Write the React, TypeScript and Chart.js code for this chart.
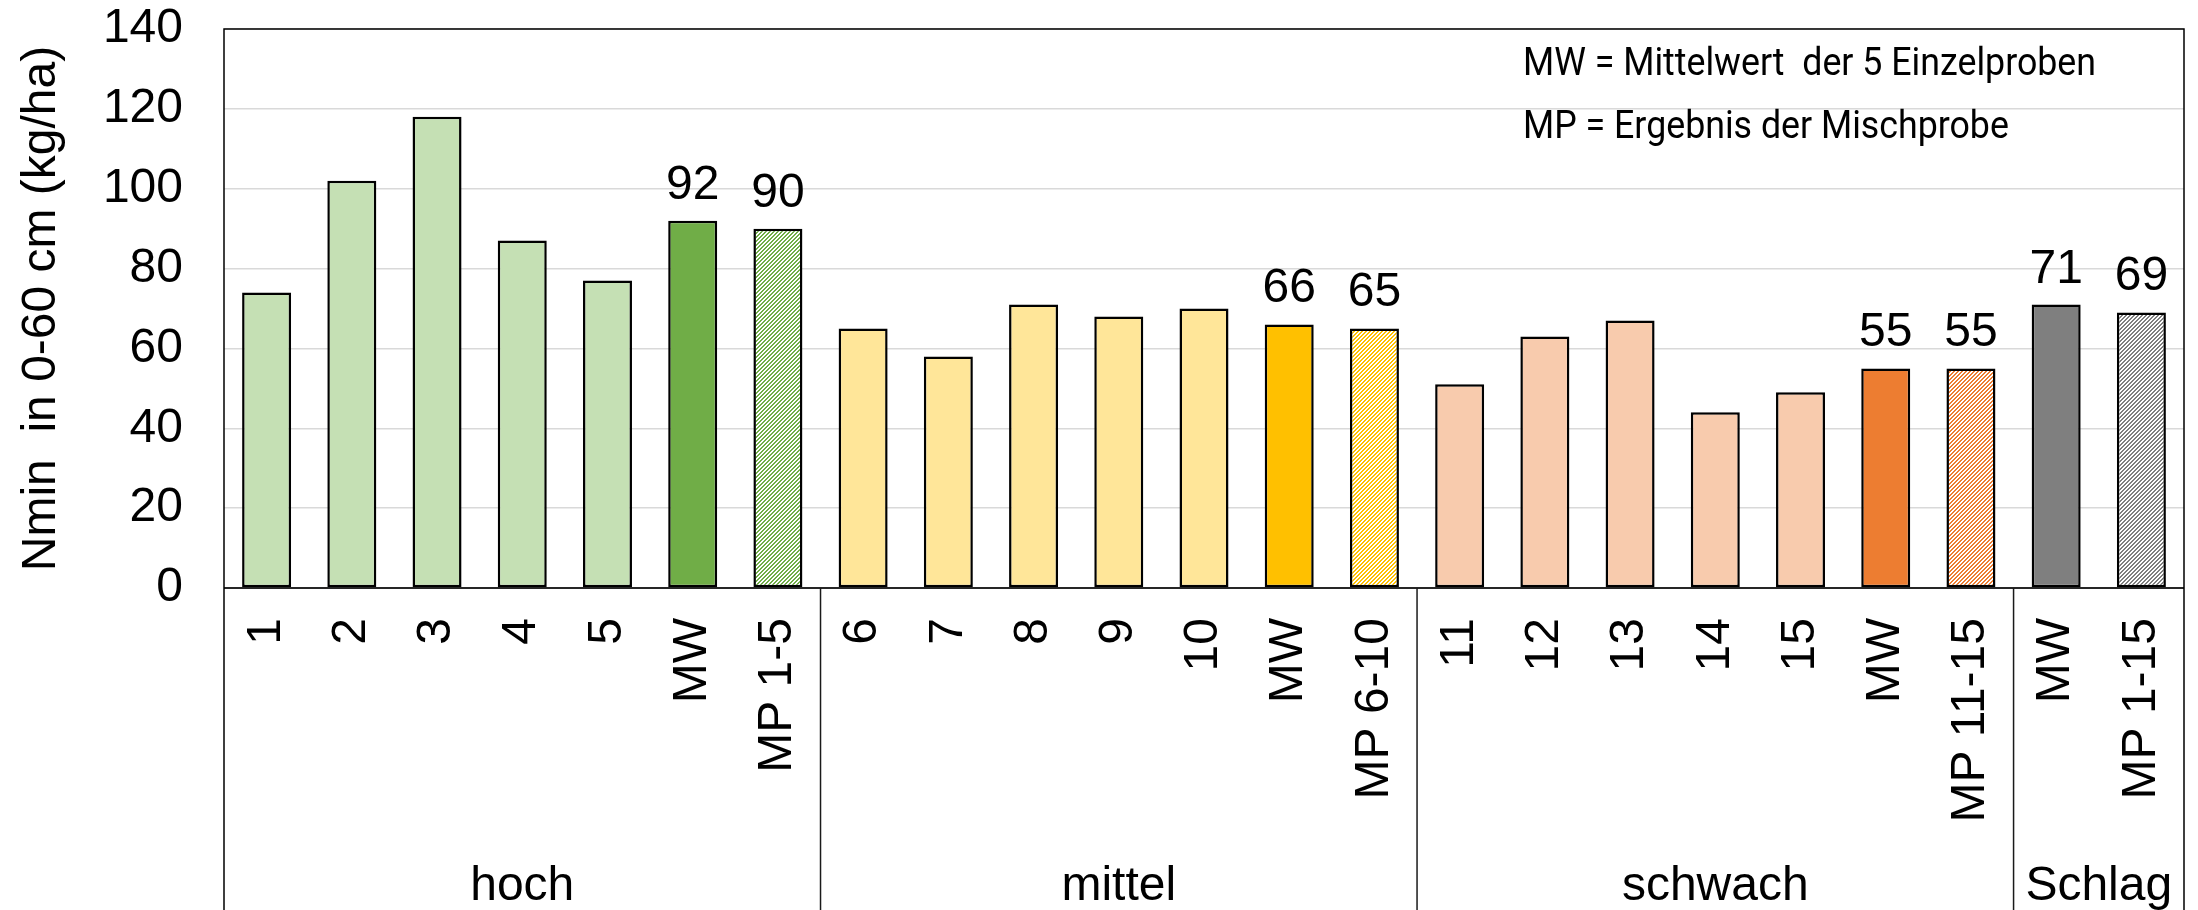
import { useEffect, useRef } from 'react';
import { Chart, registerables } from 'chart.js';

Chart.register(...registerables);

// Sample points and the derived mean (MW) / mixed sample (MP) results
const categories = [
  '1', '2', '3', '4', '5', 'MW', 'MP 1-5',
  '6', '7', '8', '9', '10', 'MW', 'MP 6-10',
  '11', '12', '13', '14', '15', 'MW', 'MP 11-15',
  'MW', 'MP 1-15',
];
const nminValues = [
  74, 102, 118, 87, 77, 92, 90,
  65, 58, 71, 68, 70, 66, 65,
  51, 63, 67, 44, 49, 55, 55,
  71, 69,
];

// Yield zones and how many bars each one holds
const groupNames = ['hoch', 'mittel', 'schwach', 'Schlag'];
const groupSizes = [7, 7, 7, 2];
const lightColors = ['#C5E0B4', '#FFE699', '#F8CBAD', '#BFBFBF'];
const strongColors = ['#70AD47', '#FFC000', '#ED7D31', '#7F7F7F'];

const yMin = 0;
const yMax = 140;
const yStep = 20;
const yTitle = 'Nmin  in 0-60 cm (kg/ha)';
const noteLines = ['MW = Mittelwert  der 5 Einzelproben', 'MP = Ergebnis der Mischprobe'];

const FONT = "'Liberation Sans', Arial, sans-serif";

// Fine upward diagonal hatch on white, used for the mixed-sample bars
function hatch(color: string): CanvasPattern | string {
  const size = 4;
  const tile = document.createElement('canvas');
  tile.width = size;
  tile.height = size;
  const g = tile.getContext('2d');
  if (!g) return color;
  g.fillStyle = '#ffffff';
  g.fillRect(0, 0, size, size);
  g.fillStyle = color;
  for (let x = 0; x < size; x++) {
    for (let y = 0; y < size; y++) {
      if ((x + y) % size < 2) g.fillRect(x, y, 1, 1);
    }
  }
  const p = g.createPattern(tile, 'repeat');
  return p || color;
}

// Tick labels may overhang the plot edges; keep them from shrinking the plot
function clearScalePadding(scale: any) {
  scale.paddingTop = 0;
  scale.paddingBottom = 0;
  scale.paddingLeft = 0;
  scale.paddingRight = 0;
}

const framePlugin = {
  id: 'frame',
  afterDraw(chart: any) {
    const { ctx, chartArea } = chart;
    const { left, right, top, bottom } = chartArea;
    const H = chart.height;
    const xs = chart.scales.x;
    const ys = chart.scales.y;
    const catW = xs.getPixelForValue(1) - xs.getPixelForValue(0);

    ctx.save();

    // value axis baseline
    const y0 = ys.getPixelForValue(0);
    ctx.strokeStyle = '#262626';
    ctx.lineWidth = 2;
    ctx.beginPath();
    ctx.moveTo(left, y0);
    ctx.lineTo(right, y0);
    ctx.stroke();

    // outer frame running down through the category area
    ctx.strokeStyle = '#000000';
    ctx.lineWidth = 1.5;
    ctx.beginPath();
    ctx.moveTo(left, H);
    ctx.lineTo(left, top);
    ctx.lineTo(right, top);
    ctx.lineTo(right, H);
    ctx.stroke();

    // zone separators and zone names
    let start = 0;
    ctx.fillStyle = '#000000';
    ctx.font = `48px ${FONT}`;
    ctx.textAlign = 'center';
    ctx.textBaseline = 'alphabetic';
    groupNames.forEach((name, gi) => {
      const end = start + groupSizes[gi];
      const x0 = xs.getPixelForValue(start) - catW / 2;
      const x1 = xs.getPixelForValue(end - 1) + catW / 2;
      if (gi < groupNames.length - 1) {
        ctx.strokeStyle = '#1a1a1a';
        ctx.lineWidth = 1.5;
        ctx.beginPath();
        ctx.moveTo(x1, bottom);
        ctx.lineTo(x1, H);
        ctx.stroke();
      }
      ctx.fillText(name, (x0 + x1) / 2, H - 10);
      start = end;
    });

    // value labels above the MW / MP bars
    const meta = chart.getDatasetMeta(0);
    categories.forEach((c, i) => {
      if (c === 'MW' || c.startsWith('MP')) {
        const el = meta.data[i];
        ctx.fillText(String(Math.round(nminValues[i])), el.x, el.y - 22);
      }
    });

    // y-axis title
    ctx.save();
    ctx.translate(55, (top + bottom) / 2);
    ctx.rotate(-Math.PI / 2);
    ctx.textAlign = 'center';
    ctx.fillText(yTitle, 0, 0);
    ctx.restore();

    // explanatory note in the upper right
    ctx.font = "38px Roboto, 'DejaVu Sans Condensed', sans-serif";
    ctx.textAlign = 'left';
    const sx = 573 / ctx.measureText(noteLines[0]).width;
    noteLines.forEach((line, li) => {
      ctx.save();
      ctx.translate(right - 661, top + 46 + li * 63);
      ctx.scale(sx, 1);
      ctx.fillText(line, 0, 0);
      ctx.restore();
    });

    ctx.restore();
  },
};

export default function App() {
  const canvasRef = useRef<HTMLCanvasElement>(null);

  useEffect(() => {
    const canvas = canvasRef.current;
    if (!canvas) return;

    const groupOf: number[] = [];
    groupSizes.forEach((n, g) => {
      for (let i = 0; i < n; i++) groupOf.push(g);
    });
    const fills = categories.map((c, i) => {
      const g = groupOf[i];
      if (c === 'MW') return strongColors[g];
      if (c.startsWith('MP')) return hatch(strongColors[g]);
      return lightColors[g];
    });

    Chart.defaults.font.family = FONT;
    Chart.defaults.color = '#000000';

    const chart = new Chart(canvas, {
      type: 'bar',
      data: {
        labels: categories,
        datasets: [
          {
            data: nminValues,
            backgroundColor: fills as any,
            borderColor: '#000000',
            borderWidth: 2.5,
            borderSkipped: false,
            categoryPercentage: 1,
            barPercentage: 0.575,
          },
        ],
      },
      options: {
        responsive: false,
        animation: false,
        devicePixelRatio: 1,
        layout: { autoPadding: false, padding: { top: 29, right: 14, left: 0, bottom: 0 } },
        plugins: {
          legend: { display: false },
          tooltip: { enabled: false },
        },
        scales: {
          x: {
            grid: { display: false, drawTicks: false },
            border: { display: false },
            ticks: {
              autoSkip: false,
              minRotation: 90,
              maxRotation: 90,
              padding: 30,
              color: '#000000',
              font: { size: 48, family: FONT },
            },
            afterFit(scale: any) {
              scale.height = 322;
              clearScalePadding(scale);
            },
          },
          y: {
            min: yMin,
            max: yMax,
            ticks: {
              stepSize: yStep,
              padding: 41,
              color: '#000000',
              font: { size: 48, family: FONT },
            },
            grid: { color: '#D9D9D9', lineWidth: 1.5, drawTicks: false },
            border: { display: false },
            afterFit(scale: any) {
              scale.width = 224;
              clearScalePadding(scale);
            },
          },
        },
      },
      plugins: [framePlugin],
    });

    return () => chart.destroy();
  }, []);

  return (
    <div style={{ position: 'absolute', left: 0, top: 0, width: 2198, height: 910, background: '#ffffff' }}>
      <canvas ref={canvasRef} width={2198} height={910} style={{ display: 'block', width: 2198, height: 910 }} />
    </div>
  );
}
